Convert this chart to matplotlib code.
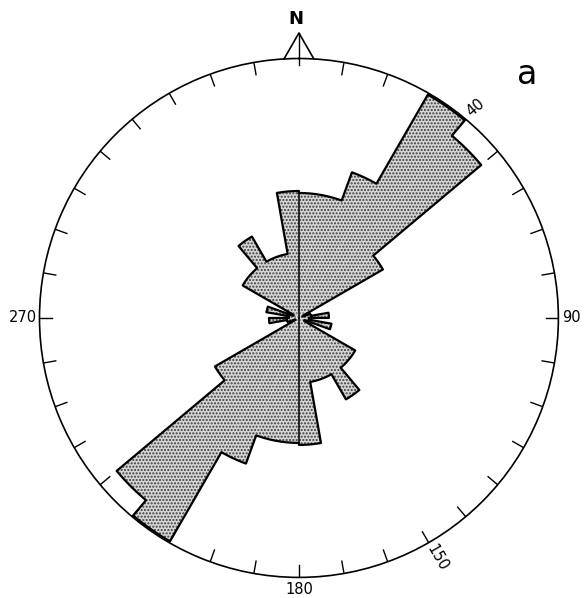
import numpy as np
import matplotlib.pyplot as plt

plt.rcParams['font.family'] = 'DejaVu Sans'

# class frequencies (%) for 10 degree azimuth classes, 0-180; axial data, so
# the 180-360 half repeats them
bin_start = np.arange(0, 180, 10)
freq_half = [12.5, 12.5, 15.5, 25.8, 23.8, 9.7, 0.4, 1.2, 3.0,
             1.0, 3.3, 0.6, 6.5, 6.5, 9.4, 6.5, 6.5, 12.7]
r_max = 25.95

freq = np.concatenate([freq_half, freq_half])
left = np.deg2rad(np.concatenate([bin_start, bin_start + 180]))
width = np.deg2rad(10)

tick_deg = np.arange(10, 360, 10)
label_deg = [40, 90, 150, 180, 270]
label_rot = [40, 0, -60, 0, 0]
label_r = [27.5, 27.3, 27.7, 27.2, 27.6]

fig = plt.figure(figsize=(5.85, 5.98), dpi=100)
ax = fig.add_axes([0.0675, 0.0343, 0.887, 0.868], projection='polar')
ax.set_theta_zero_location('N')
ax.set_theta_direction(-1)
ax.set_ylim(0, r_max)

# stippled petals
ax.bar(left, freq, width=width, align='edge', bottom=0,
       facecolor='#d6d6d6', edgecolor='#3a3a3a', linewidth=0, hatch='.....')

# outline of the whole rose
th_out, r_out = [], []
for t0, f in zip(left, freq):
    t = np.linspace(t0, t0 + width, 12)
    th_out.extend(t)
    r_out.extend([f] * len(t))
th_out.append(th_out[0])
r_out.append(r_out[0])
ax.plot(th_out, r_out, color='k', lw=1.6)

# N-S line through the rose
ax.plot([0, 0], [0, min(freq[0], freq[-1])], color='k', lw=1.1)
ax.plot([np.pi, np.pi], [0, min(freq[17], freq[18])], color='k', lw=1.1)

ax.grid(False)
ax.set_yticks([])
ax.set_xticks([])
ax.spines['polar'].set_linewidth(1.2)

# inward ticks every 10 degrees
for d in tick_deg:
    ax.plot([np.deg2rad(d)] * 2, [r_max - 1.25, r_max], color='k', lw=1.0)

for d, rot, rr in zip(label_deg, label_rot, label_r):
    ax.text(np.deg2rad(d), rr, str(d), rotation=rot, ha='center', va='center',
            fontsize=10.5, clip_on=False)

# north arrow
ax.plot(np.deg2rad([-3.3, 0, 3.3]), [r_max, 28.5, r_max], color='k', lw=1.2,
        clip_on=False)
ax.plot([0, 0], [25.3, 28.5], color='k', lw=1.0, clip_on=False)
fig.text(0.506, 0.968, 'N', ha='center', va='center', fontsize=13,
         fontweight='bold')

fig.text(0.902, 0.875, 'a', ha='center', va='center', fontsize=24)

fig.savefig('out.png', dpi=100)
